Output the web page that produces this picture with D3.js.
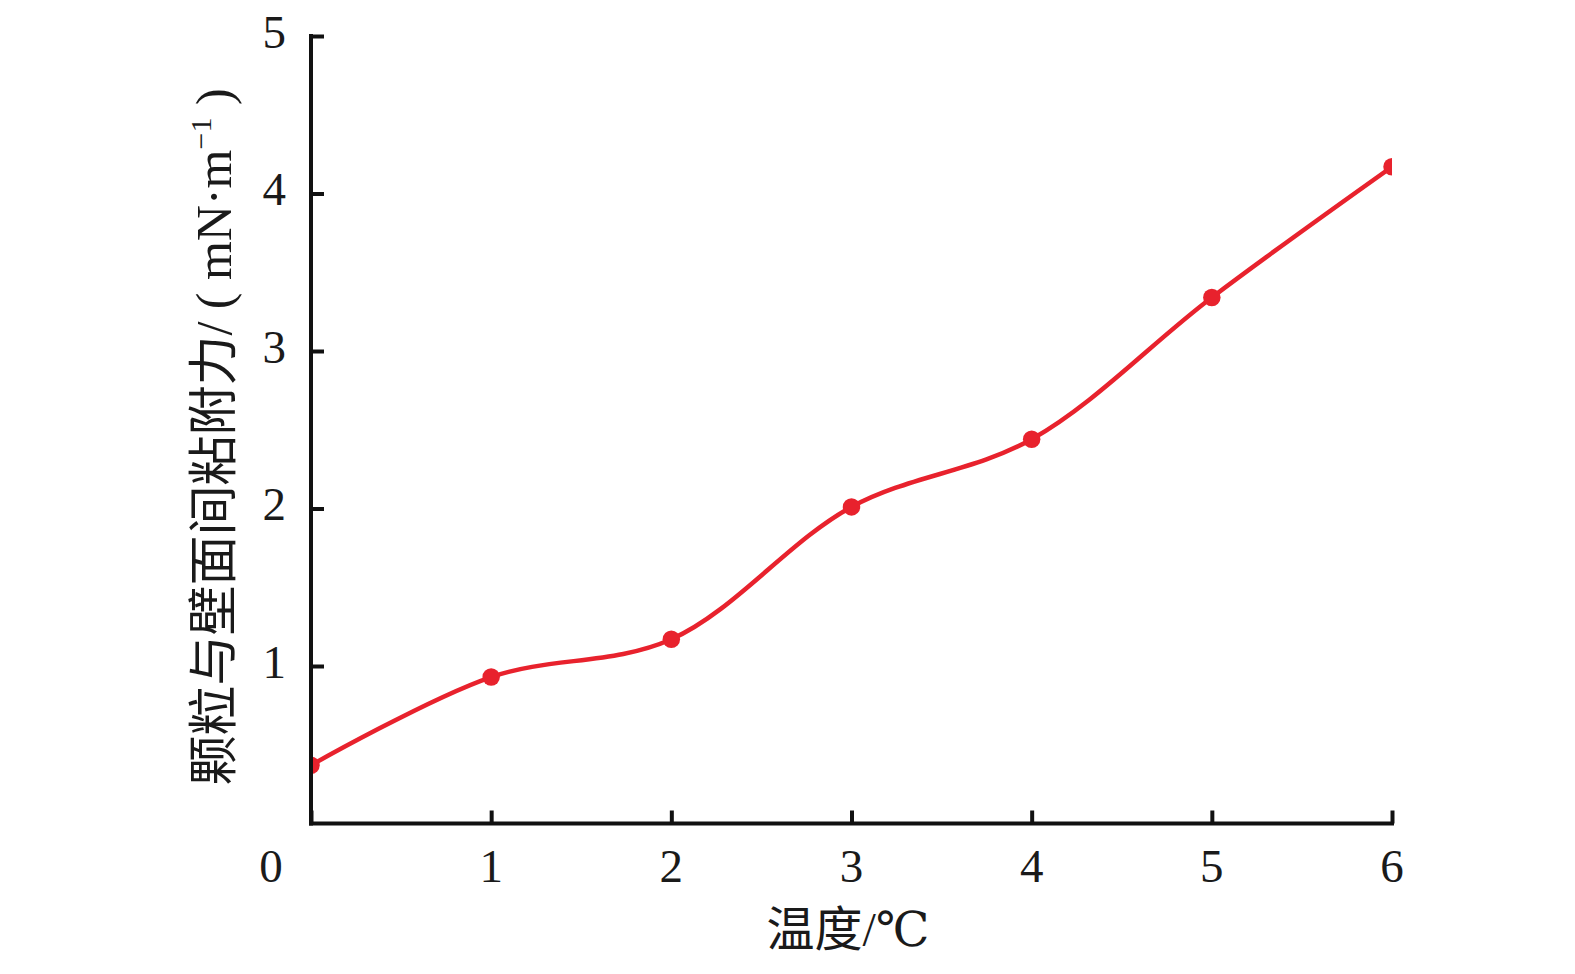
<!DOCTYPE html>
<html><head><meta charset="utf-8">
<script src="https://cdn.jsdelivr.net/npm/d3@7"></script>
<style>html,body{margin:0;padding:0;background:#fff;}</style>
</head><body>
<svg id="c" width="1575" height="974"></svg>
<script>
const temps = [0, 1, 2, 3, 4, 5, 6];
const force = [0.37, 0.93, 1.17, 2.01, 2.44, 3.34, 4.17];
const xTicks = [0, 1, 2, 3, 4, 5, 6];
const yTicks = [1, 2, 3, 4, 5];
const xTitle = "温度/℃";
const yTitleCN = "颗粒与壁面间粘附力";
const yTitleUnit = "/ ( mN·m";

const svg = d3.select("#c");
const x = d3.scaleLinear().domain([0, 6]).range([311, 1392]);
const y = d3.scaleLinear().domain([0, 5]).range([823.5, 36]);
const red = "#e8222d";
const serif = "'Liberation Serif','DejaVu Serif',serif";
const cjk = "'Noto Sans CJK SC',sans-serif";

svg.append("defs").append("clipPath").attr("id","clip")
  .append("rect").attr("x", x(0)).attr("y", 0).attr("width", x(6)-x(0)).attr("height", y(0));

const line = d3.line().x((d,i)=>x(temps[i])).y(d=>y(d)).curve(d3.curveCatmullRom.alpha(0.5));
const g = svg.append("g").attr("clip-path","url(#clip)");
g.append("path").datum(force).attr("d", line).attr("fill","none").attr("stroke",red).attr("stroke-width",4.5);
g.selectAll("path.m").data(force).enter().append("path").attr("class","m")
  .attr("d", d3.symbol().type(d3.symbolCircle).size(240)())
  .attr("transform",(d,i)=>`translate(${x(temps[i])},${y(d)})`)
  .attr("fill",red);

// axes
const xAxis = svg.append("g").attr("transform",`translate(0,${y(0)})`)
  .call(d3.axisTop(x).tickValues(xTicks).tickSize(13).tickSizeOuter(0).tickFormat(""));
const yAxis = svg.append("g").attr("transform",`translate(${x(0)},0)`)
  .call(d3.axisRight(y).tickValues(yTicks).tickSize(13).tickSizeOuter(0).tickFormat(""));
[xAxis,yAxis].forEach(a=>{
  a.select(".domain").attr("stroke","#111").attr("stroke-width",4);
  a.selectAll(".tick line").attr("stroke","#111").attr("stroke-width",4);
});
xAxis.select(".domain").attr("d",`M${x(0)-2},0H${x(6)+2}`);
yAxis.select(".domain").attr("d",`M0,${y(0)+2}V${y(5)-2}`);

// tick labels
svg.selectAll("text.xl").data(xTicks).enter().append("text")
  .attr("x", d => d===0 ? x(0)-40 : x(d)).attr("y", y(0)+58)
  .attr("text-anchor","middle").attr("font-family",serif).attr("font-size",47).attr("fill","#1a1a1a")
  .text(d=>d);
svg.selectAll("text.yl").data(yTicks).enter().append("text")
  .attr("x", x(0)-25).attr("y", d=>y(d)+1)
  .attr("text-anchor","end").attr("dominant-baseline","middle")
  .attr("font-family",serif).attr("font-size",47).attr("fill","#1a1a1a")
  .text(d=>d);

// titles
const xt = svg.append("text").attr("x", 848).attr("y", 946).attr("text-anchor","middle")
  .attr("font-size",48).attr("fill","#1a1a1a");
xt.append("tspan").attr("font-family",cjk).text("温度");
xt.append("tspan").attr("font-family",serif).text("/℃");

const yt = svg.append("text").attr("transform",`translate(231,437) rotate(-90)`).attr("text-anchor","middle")
  .attr("fill","#1a1a1a");
yt.append("tspan").attr("font-family",cjk).attr("font-size",50).text(yTitleCN);
yt.append("tspan").attr("font-family",serif).attr("font-size",50).text(yTitleUnit);
yt.append("tspan").attr("font-family",serif).attr("font-size",30).attr("dy",-20).text("−1");
yt.append("tspan").attr("font-family",serif).attr("font-size",50).attr("dy",20).text(" )");
</script>
</body></html>
